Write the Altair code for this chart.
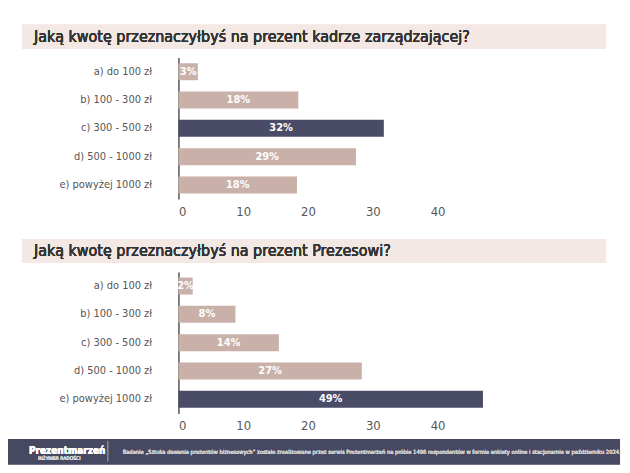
import altair as alt
import pandas as pd

categories = ["a) do 100 zł", "b) 100 - 300 zł", "c) 300 - 500 zł",
              "d) 500 - 1000 zł", "e) powyżej 1000 zł"]

q1_title = "Jaką kwotę przeznaczyłbyś na prezent kadrze zarządzającej?"
q1_values = [3.0, 18.5, 31.7, 27.4, 18.3]
q1_labels = ["3%", "18%", "32%", "29%", "18%"]

q2_title = "Jaką kwotę przeznaczyłbyś na prezent Prezesowi?"
q2_values = [2.2, 8.8, 15.5, 28.3, 47.0]
q2_labels = ["2%", "8%", "14%", "27%", "49%"]

footer_text = ("Badanie „Sztuka dawania prezentów biznesowych” zostało zrealizowane przez serwis "
               "Prezentmarzeń na próbie 1496 respondentów w formie ankiety online i stacjonarnie "
               "w październiku 2024.")

FONT = "DejaVu Sans Condensed"
LIGHT = "#c9b0a8"
DARK = "#4a4b66"
BAND = "#f3e8e3"
W, H = 312, 142


def panel(title, values, labels, first=False, footer=False):
    df = pd.DataFrame({"cat": categories, "value": values, "label": labels})
    top = max(values)
    df["hl"] = [v == top for v in values]
    base = alt.Chart(df)
    y = alt.Y("cat:N", sort=categories, title=None,
              scale=alt.Scale(paddingInner=0.4, paddingOuter=0.2),
              axis=alt.Axis(ticks=False, labelPadding=27, labelFont=FONT, labelFontSize=11,
                            labelColor="#555", domainColor="#555", domainWidth=1.5))
    bars = base.mark_bar().encode(
        x=alt.X("value:Q", title=None, scale=alt.Scale(domain=[0, 48], nice=False),
                axis=alt.Axis(values=[0, 10, 20, 30, 40], grid=False, domain=False, ticks=False,
                              labelFont=FONT, labelFontSize=13, labelColor="#555",
                              labelPadding=6)),
        y=y,
        color=alt.condition("datum.hl", alt.value(DARK), alt.value(LIGHT)),
    )
    text = base.mark_text(color="white", font=FONT, fontSize=11, fontWeight="bold").transform_calculate(
        mid="datum.value / 2").encode(x="mid:Q", y=alt.Y("cat:N", sort=categories), text="label:N")
    band = base.mark_rect(color=BAND).encode(
        x=alt.value(-157), x2=alt.value(429), y=alt.value(-33), y2=alt.value(-9))
    ttl = base.mark_text(text=title, align="left", baseline="middle", font=FONT,
                         fontSize=16, color="#333").encode(x=alt.value(-145), y=alt.value(-21))
    layers = [band, ttl, bars, text]
    if first:
        layers.insert(0, base.mark_rect(opacity=0).encode(
            x=alt.value(-171), x2=alt.value(-170), y=alt.value(-49), y2=alt.value(-48)))
    if footer:
        layers += [
            base.mark_rect(color="#474862").encode(
                x=alt.value(-171), x2=alt.value(443), y=alt.value(168), y2=alt.value(193)),
            base.mark_text(text="Prezentmarzeń", align="left", font=FONT, fontSize=10,
                           fontWeight="bold", color="white").encode(
                x=alt.value(-150), y=alt.value(180)),
            base.mark_text(text="INŻYNIER RADOŚCI", align="left", font=FONT, fontSize=5,
                           color="#ddd").encode(x=alt.value(-141), y=alt.value(187)),
            base.mark_rule(color="#888").encode(
                x=alt.value(-71), y=alt.value(170), y2=alt.value(190)),
            base.mark_text(text=footer_text, align="left", baseline="middle", font=FONT,
                           fontSize=5.8, color="#ccc").encode(x=alt.value(-56), y=alt.value(181)),
        ]
    return alt.layer(*layers).properties(width=W, height=H)


chart = alt.vconcat(
    panel(q1_title, q1_values, q1_labels, first=True),
    panel(q2_title, q2_values, q2_labels, footer=True),
    spacing=73, bounds="flush",
).properties(
    padding=0,
    background="white",
).configure_view(stroke=None)

chart.save("out.html", embed_options={"renderer": "svg", "actions": False})
